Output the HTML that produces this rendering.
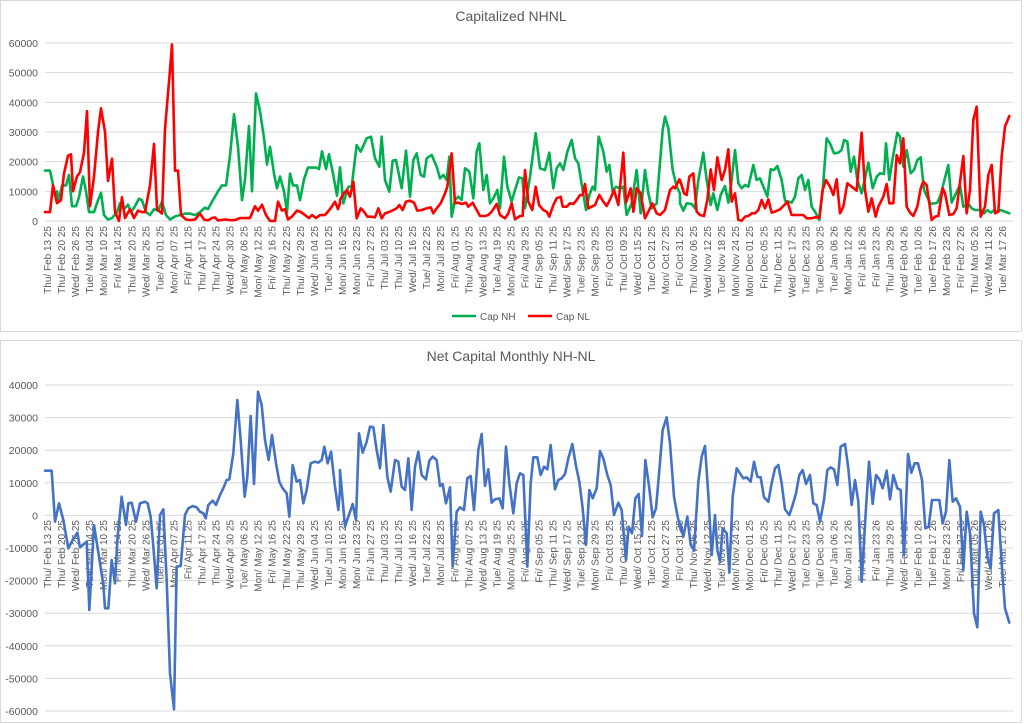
<!DOCTYPE html>
<html><head><meta charset="utf-8"><style>
html,body{margin:0;padding:0;background:#fff;}
svg{display:block;font-family:"Liberation Sans",sans-serif;}
</style></head><body>
<svg id="s" width="1024" height="724" viewBox="0 0 1024 724" xmlns="http://www.w3.org/2000/svg">
<rect x="0.5" y="0.5" width="1021" height="331" fill="#fff" stroke="#d9d9d9"/>
<rect x="0.5" y="340.5" width="1021" height="382" fill="#fff" stroke="#d9d9d9"/>
<text x="511" y="21" text-anchor="middle" font-size="14" fill="#595959">Capitalized NHNL</text>
<text x="511" y="361" text-anchor="middle" font-size="14" fill="#595959">Net Capital Monthly NH-NL</text>
<g id="grid" stroke="#d9d9d9" stroke-width="1"></g>
<g id="ylab" font-size="10.5" fill="#595959" text-anchor="end"></g>
<g id="xlab" font-size="10" fill="#595959" text-anchor="end"></g>
<g id="lines" fill="none" stroke-linejoin="round" stroke-linecap="round"></g>
<line x1="452" y1="316" x2="476" y2="316" stroke="#00b050" stroke-width="2.5"/>
<text x="480" y="320" font-size="10" fill="#595959">Cap NH</text>
<line x1="528" y1="316" x2="552" y2="316" stroke="#ff0000" stroke-width="2.5"/>
<text x="556" y="320" font-size="10" fill="#595959">Cap NL</text>
</svg>
<script>
var NS="http://www.w3.org/2000/svg";
function el(p,t,a,txt){var e=document.createElementNS(NS,t);for(var k in a)e.setAttribute(k,a[k]);if(txt!=null)e.textContent=txt;document.getElementById(p).appendChild(e);return e;}
// grids
for(var i=0;i<=6;i++){var y=221-i*29.67;el("grid","line",{x1:45,x2:1013,y1:y,y2:y});el("ylab","text",{x:38,y:y+4},String(i*10000));}
for(var i=0;i<=10;i++){var v=40000-i*10000;var y=385+i*32.6;el("grid","line",{x1:45,x2:1013,y1:y,y2:y});el("ylab","text",{x:38,y:y+4},String(v));}
// dates
var hol=["2025-02-17","2025-04-18","2025-05-26","2025-06-19","2025-07-04","2025-09-01","2025-11-27","2025-12-25","2026-01-01","2026-01-19","2026-02-16"];
var D=["Sun","Mon","Tue","Wed","Thu","Fri","Sat"],M=["Jan","Feb","Mar","Apr","May","Jun","Jul","Aug","Sep","Oct","Nov","Dec"];
var d=new Date(Date.UTC(2025,1,13)),labs=[],c=0;
function iso(d){return d.toISOString().slice(0,10);}
while(d<=new Date(Date.UTC(2026,2,17))){var w=d.getUTCDay();if(w>0&&w<6&&hol.indexOf(iso(d))<0){if(c%4==0){var dd=("0"+d.getUTCDate()).slice(-2);labs.push(D[w]+"/ "+M[d.getUTCMonth()]+" "+dd+" "+String(d.getUTCFullYear()).slice(2));}c++;}d=new Date(d.getTime()+86400000);}
var step=(1002-47)/(labs.length-1);
labs.forEach(function(t,i){var x=47+i*step+4;el("xlab","text",{transform:"translate("+x+",226) rotate(-90)"},t);el("xlab","text",{transform:"translate("+x+",520) rotate(-90)"},t);});
// series
function P(a){return a.map(function(p){return p.join(",");}).join(" ");}
function pts(flat){var r=[];for(var i=0;i<flat.length;i+=2)r.push([flat[i],flat[i+1]]);return r;}
function tr(arr,ox,oy){return arr.map(function(p){return [ox+p[0]/3,oy+p[1]/3];});}
function val(arr){return arr.map(function(p){return [p[0],221-p[1]*2.967];});}
var g1=val(pts([45,17,50,17,55,9,57,10,59,7,62,12,66,12,69,15.5,72,5,76,5,79,8,83,15,86,10,89,3,94,3,98,7,101,9.5,104,2,108,0.5,112,1,117,3,120,6,124,4,128,5.5,131,3,135,5,139,7.5,142,7,146,3,150,2,154,4,158,3.5,162,6.5,166,2,170,0.5,175,1.5,180,2,185,2.5,190,2.5,195,2,200,3,205,4.5,208,4,212,6.5,218,10,222,12,226,12,230,22,234,36,238,25,242,7,245,14,249,32,252,10,256,43,260,37,264,28,267,19,270,25,274,16,277,11,280,15,284,10,287,3,290,16,293,12,297,12,300,7,304,14,308,18,312,18,316,18,319,17.5,322,23.5,326,17.5,329,22.5,333,16,337,8.5,339,15]));
var g2=tr(pts([0,262,10,370,25,320,35,320,50,195,62,215,80,175,93,170,105,235,118,260,125,170,135,300,148,335,158,242,168,240,185,325,198,212,210,350,220,240,230,220,242,285,252,290,260,235,275,225,290,260,300,295,310,285,320,300,328,230,335,410,345,360,355,350,365,360,375,265,388,275,400,355,410,215,418,190,430,330,440,285,450,370,460,355,472,330,480,385,492,230,502,320,515,365,525,330,537,292,547,295,555,385,570,290,587,160,600,265,615,270,628,218,640,325,650,265,660,250,670,270,682,215,695,180,705,235,715,250,728,330,738,390,748,345,758,320,765,330,776,170,790,215,800,275,808,255,818,335,828,320,840,325,850,320,860,405,875,370,890,270,902,400,915,270,925,340,935,385,950,370,968,150,975,110,985,145,998,270,1010,320,1020,340]),340,80);
var g3=tr(pts([0,370,10,392,20,370,35,372,45,385,55,300,70,218,80,300,92,375,100,340,112,390,122,345,135,318,145,368,155,300,165,210,175,310,185,325,195,315,205,320,220,255,230,300,240,295,250,320,262,350,272,268,282,270,292,258,305,300,315,362,325,365,335,368,345,350,355,295,365,285,375,330,385,300,395,380,405,395,418,420,428,330,440,175,450,190,462,220,475,218,485,210,492,180,502,185,512,275,522,230,532,300,545,340,555,295,565,248,578,325,590,290,600,280,612,282,618,190,628,300,638,235,652,158,660,170,670,260,680,210,692,280,702,270,712,240,722,232,732,330,742,352,752,372,762,370,772,368,782,345,792,305,805,255,815,368,828,340,840,315,850,380,865,372,875,385,885,390,900,390,912,400,922,390,932,398,940,392,952,395,962,390,975,395,988,400]),680,80);
var r1=val(pts([45,3,50,3,53,12,57,6,61,7,64,16,68,22,71,22.5,73,10,77,15,80,16.5,84,23,87,37,90,5,94,15,98,30,101,38,105,30,108,13.5,112,21,115,3,119,0,122,8,125,1,130,4,134,1,138,3.5,142,3,145,3,150,12,154,26,157,4,162,2.5,165,31,170,51,172,59.5,175,17,178,17,181,2,186,0.5,190,0.3,195,0.5,200,2.5,204,0.5,208,0.2,212,1,215,1.2,218,0.2,225,0.5,230,0.3,235,0.3,240,1,245,1,250,1,255,5,258,3.5,262,5.5,266,2,270,0,275,0,278,6.5,282,3.5,285,4,288,0.5,292,1.5,297,3.5,301,3,305,2,309,1,312,2,316,1,320,2,325,2,330,4,335,6.5,338,4,340,6]));
var r2=tr(pts([0,360,8,345,20,330,30,350,40,305,50,415,62,385,72,395,82,410,95,410,105,412,115,385,125,415,135,400,150,395,160,390,170,385,178,375,188,390,198,365,210,362,222,368,232,392,245,390,260,385,272,382,280,400,290,385,302,370,315,340,322,320,335,220,345,370,355,368,365,372,378,368,385,380,398,368,410,390,420,408,435,408,445,405,455,395,470,372,480,405,495,415,505,400,515,370,525,418,540,408,548,408,555,270,565,365,577,390,587,320,597,375,610,390,620,395,628,410,640,375,650,355,662,350,668,380,680,380,690,370,700,372,710,360,720,345,728,345,735,312,745,385,755,380,765,375,778,345,790,365,800,378,812,355,822,330,835,375,850,218,858,368,872,325,880,395,890,325,902,340,915,415,925,395,937,370,950,400,960,405,975,390,990,330,1000,320,1005,325,1018,298,1030,330]),340,80);
var r3=tr(pts([0,300,12,340,20,345,28,290,40,280,50,395,60,405,72,408,82,360,92,268,102,330,112,232,125,300,135,270,145,208,155,365,165,340,175,420,185,422,195,410,205,408,215,400,225,400,235,390,245,360,255,385,265,358,275,398,285,395,300,388,310,378,322,365,335,405,345,405,360,405,370,405,380,415,392,415,405,412,418,413,428,330,438,300,450,320,460,345,470,298,480,400,490,380,502,310,515,320,530,332,545,158,555,330,565,395,575,355,587,410,595,380,610,350,620,312,628,370,640,370,650,225,660,250,670,175,680,380,690,398,700,408,712,380,722,325,730,305,740,315,755,420,765,410,775,408,788,325,795,340,808,405,820,402,830,385,850,228,860,400,870,330,880,120,890,80,902,410,915,380,925,285,935,255,945,400,955,395,965,230,975,140,988,108]),680,80);
var b1=tr(pts([135,392,155,392,165,545,177,490,190,540,205,625,218,600,232,578,240,622,260,605,268,810,282,555,297,650,310,735,315,805,325,805,335,660,345,730,352,600,365,470,378,555,385,490,395,488,408,545,420,490,435,485,443,490,452,530,460,620,470,745,480,525,490,508,500,720,510,1000,522,1108,530,680,542,678,555,525,565,505,578,498,590,502,600,515,610,520,617,535,625,495,638,482,648,495,660,465,672,440,680,420,688,418,700,340,712,180,722,300,734,470,742,410,752,228,762,432,774,155,785,195,795,300,806,360,816,285,828,370,838,425,848,445,860,460,868,530,878,375,890,425,900,420,910,490,920,450,932,370,944,365,955,368,965,360,973,320,983,370,993,335,1005,440,1015,510,1020,450]),0,340);
var b2=tr(pts([0,270,15,440,25,410,38,372,48,420,57,160,68,218,80,185,90,140,100,142,110,210,120,265,130,135,142,290,152,335,165,240,175,245,185,320,195,330,205,235,215,390,225,260,235,215,245,285,258,298,268,242,278,230,290,240,300,318,308,312,318,370,330,322,338,560,350,395,360,382,372,390,382,295,392,288,402,390,415,210,425,162,435,318,445,268,455,368,465,358,478,355,488,385,498,200,508,310,520,400,530,310,540,280,550,285,562,560,572,310,580,232,592,232,602,285,612,260,622,268,632,195,645,328,655,300,665,295,675,282,685,235,697,192,708,258,718,305,728,385,738,495,748,330,758,355,770,325,780,213,790,235,802,285,812,315,822,405,835,368,845,390,858,540,866,440,876,460,886,355,896,342,906,468,916,240,928,325,938,412,948,385,958,270,968,150,980,112,990,190,1002,350,1012,405,1022,450,1030,465]),340,380);
var b3=tr(pts([0,430,10,470,22,410,32,495,42,510,55,305,65,230,75,198,85,345,95,525,105,405,112,510,120,545,128,445,140,460,148,578,158,350,170,265,180,280,190,295,200,292,212,305,222,245,232,290,242,292,252,352,265,365,275,310,285,265,295,255,305,310,315,388,328,405,338,375,348,340,358,285,368,270,378,312,390,285,400,370,410,375,420,425,432,360,442,270,452,262,462,268,472,315,482,200,495,192,505,265,515,375,525,300,535,365,545,605,557,400,567,245,578,372,588,285,598,298,608,325,620,272,630,358,640,285,652,325,662,330,672,525,684,222,694,278,704,250,714,250,726,300,736,445,746,440,756,360,766,360,778,360,788,430,798,395,808,240,818,365,828,355,840,380,850,570,860,395,870,460,882,700,892,742,902,395,912,435,922,530,932,565,942,400,955,390,965,550,975,685,988,728]),680,380);
el("lines","polyline",{points:P(g1.concat(g2,g3)),stroke:"#00b050","stroke-width":2.6});
el("lines","polyline",{points:P(r1.concat(r2,r3)),stroke:"#ff0000","stroke-width":2.6});
el("lines","polyline",{points:P(b1.concat(b2,b3)),stroke:"#4472c4","stroke-width":2.6});
</script>
</body></html>
